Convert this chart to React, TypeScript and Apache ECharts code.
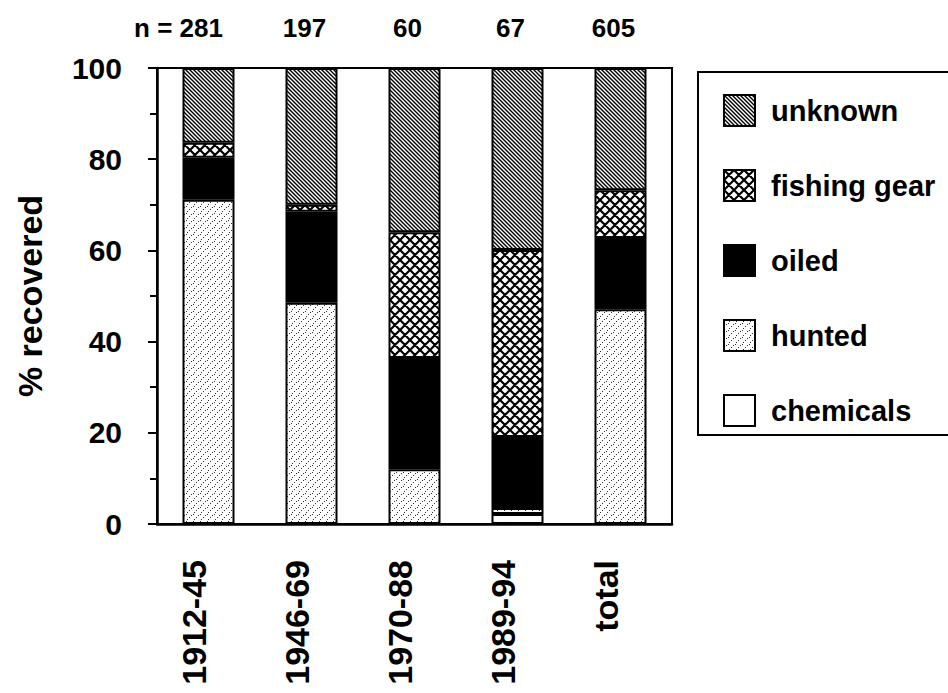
import React, { useEffect, useRef } from 'react';
import * as echarts from 'echarts';

const categories = ['1912-45', '1946-69', '1970-88', '1989-94', 'total'];
const sampleSizes = [281, 197, 60, 67, 605];
const chemicals = [0, 0, 0, 2.2, 0];
const hunted = [71.1, 48.5, 12.0, 1.3, 47.1];
const oiled = [9.2, 20.0, 24.4, 15.6, 15.6];
const fishingGear = [3.3, 1.5, 27.6, 41.0, 10.5];
const unknown = [16.4, 30.0, 36.0, 39.9, 26.8];
const legendOrder = ['unknown', 'fishing gear', 'oiled', 'hunted', 'chemicals'];

const FONT = '"Liberation Sans", Arial, Helvetica, sans-serif';

function makePattern(size: number, draw: (ctx: CanvasRenderingContext2D, s: number) => void) {
  const c = document.createElement('canvas');
  c.width = size;
  c.height = size;
  const ctx = c.getContext('2d') as CanvasRenderingContext2D;
  ctx.fillStyle = '#ffffff';
  ctx.fillRect(0, 0, size, size);
  draw(ctx, size);
  return { image: c, repeat: 'repeat', imageWidth: size, imageHeight: size };
}

export default function App() {
  const ref = useRef<HTMLDivElement>(null);
  useEffect(() => {
    if (!ref.current) return;
    const chart = echarts.init(ref.current, null, { renderer: 'svg' });

    const unknownPat = makePattern(4, (ctx, s) => {
      ctx.strokeStyle = '#000';
      ctx.lineWidth = 1.4;
      ctx.beginPath();
      for (let k = -1; k <= 1; k++) {
        ctx.moveTo(k * s - 1, -1);
        ctx.lineTo(k * s + s + 1, s + 1);
      }
      ctx.stroke();
    });
    const fishingPat = makePattern(10, (ctx, s) => {
      ctx.strokeStyle = '#000';
      ctx.lineWidth = 2.2;
      ctx.beginPath();
      for (let k = -1; k <= 1; k++) {
        ctx.moveTo(k * s - 1, -1);
        ctx.lineTo(k * s + s + 1, s + 1);
        ctx.moveTo(k * s - 1, s + 1);
        ctx.lineTo(k * s + s + 1, -1);
      }
      ctx.stroke();
    });
    const huntedPat = makePattern(7, (ctx, s) => {
      ctx.fillStyle = '#333';
      for (let i = 0; i < 4; i++) {
        const x = Math.round(i * 1.75);
        const y = Math.round(s - 1 - i * 1.75);
        ctx.fillRect(x, y, 1, 1);
      }
    });

    const bar = (name: string, data: number[], color: any) => ({
      name,
      type: 'bar',
      stack: 'total',
      barWidth: 52,
      data,
      itemStyle: { color, borderColor: '#000', borderWidth: 2 },
      emphasis: { disabled: true },
    });

    chart.setOption({
      animation: false,
      backgroundColor: '#ffffff',
      grid: {
        left: 157,
        right: 276,
        top: 68,
        bottom: 169,
        show: true,
        borderColor: '#000',
        borderWidth: 2,
        backgroundColor: 'transparent',
      },
      legend: {
        data: legendOrder,
        orient: 'vertical',
        left: 698,
        top: 72,
        padding: [22, 200, 8, 25],
        itemWidth: 31,
        itemHeight: 31,
        itemGap: 42,
        icon: 'rect',
        borderColor: '#000',
        borderWidth: 2,
        selectedMode: false,
        itemStyle: { borderColor: '#000', borderWidth: 2 },
        textStyle: {
          fontSize: 29,
          fontWeight: 'bold',
          color: '#000',
          fontFamily: FONT,
          padding: [0, 0, 0, 11],
        },
      },
      xAxis: [
        {
          type: 'category',
          data: categories,
          position: 'bottom',
          axisLine: { lineStyle: { color: '#000', width: 2.5 } },
          axisTick: { show: false },
          axisLabel: {
            interval: 0,
            hideOverlap: false,
            rotate: 90,
            margin: 36,
            fontSize: 34,
            fontWeight: 'bold',
            color: '#000',
            fontFamily: FONT,
            verticalAlign: 'bottom',
            lineHeight: 29,
          },
        },
        {
          type: 'category',
          data: categories,
          position: 'top',
          axisLine: { show: false },
          axisTick: { show: false },
          axisLabel: {
            interval: 0,
            hideOverlap: false,
            margin: 27,
            fontSize: 26,
            fontWeight: 'bold',
            color: '#000',
            fontFamily: FONT,
            padding: [0, 14, 0, 0],
            formatter: (_v: string, i: number) =>
              i === 0 ? `{p|n = }${sampleSizes[i]}{q| }` : String(sampleSizes[i]),
            rich: {
              p: { fontSize: 26, fontWeight: 'bold', color: '#000', fontFamily: FONT },
              q: { width: 46, fontSize: 26 },
            },
          },
        },
      ],
      yAxis: {
        type: 'value',
        min: 0,
        max: 100,
        interval: 20,
        name: '% recovered',
        nameLocation: 'middle',
        nameGap: 110,
        nameTextStyle: { fontSize: 34, fontWeight: 'bold', color: '#000', fontFamily: FONT },
        axisLine: { show: true, lineStyle: { color: '#000', width: 2.5 } },
        axisTick: { show: true, length: 9, lineStyle: { color: '#000', width: 2 } },
        minorTick: { show: true, splitNumber: 2, length: 7, lineStyle: { color: '#000', width: 2 } },
        splitLine: { show: false },
        axisLabel: {
          margin: 35,
          fontSize: 30,
          fontWeight: 'bold',
          color: '#000',
          fontFamily: FONT,
        },
      },
      series: [
        bar('chemicals', chemicals, '#ffffff'),
        bar('hunted', hunted, huntedPat),
        bar('oiled', oiled, '#000000'),
        bar('fishing gear', fishingGear, fishingPat),
        bar('unknown', unknown, unknownPat),
      ],
    });
    return () => chart.dispose();
  }, []);
  return (
    <div
      ref={ref}
      style={{ position: 'absolute', left: 0, top: 0, width: 948, height: 693 }}
    />
  );
}
